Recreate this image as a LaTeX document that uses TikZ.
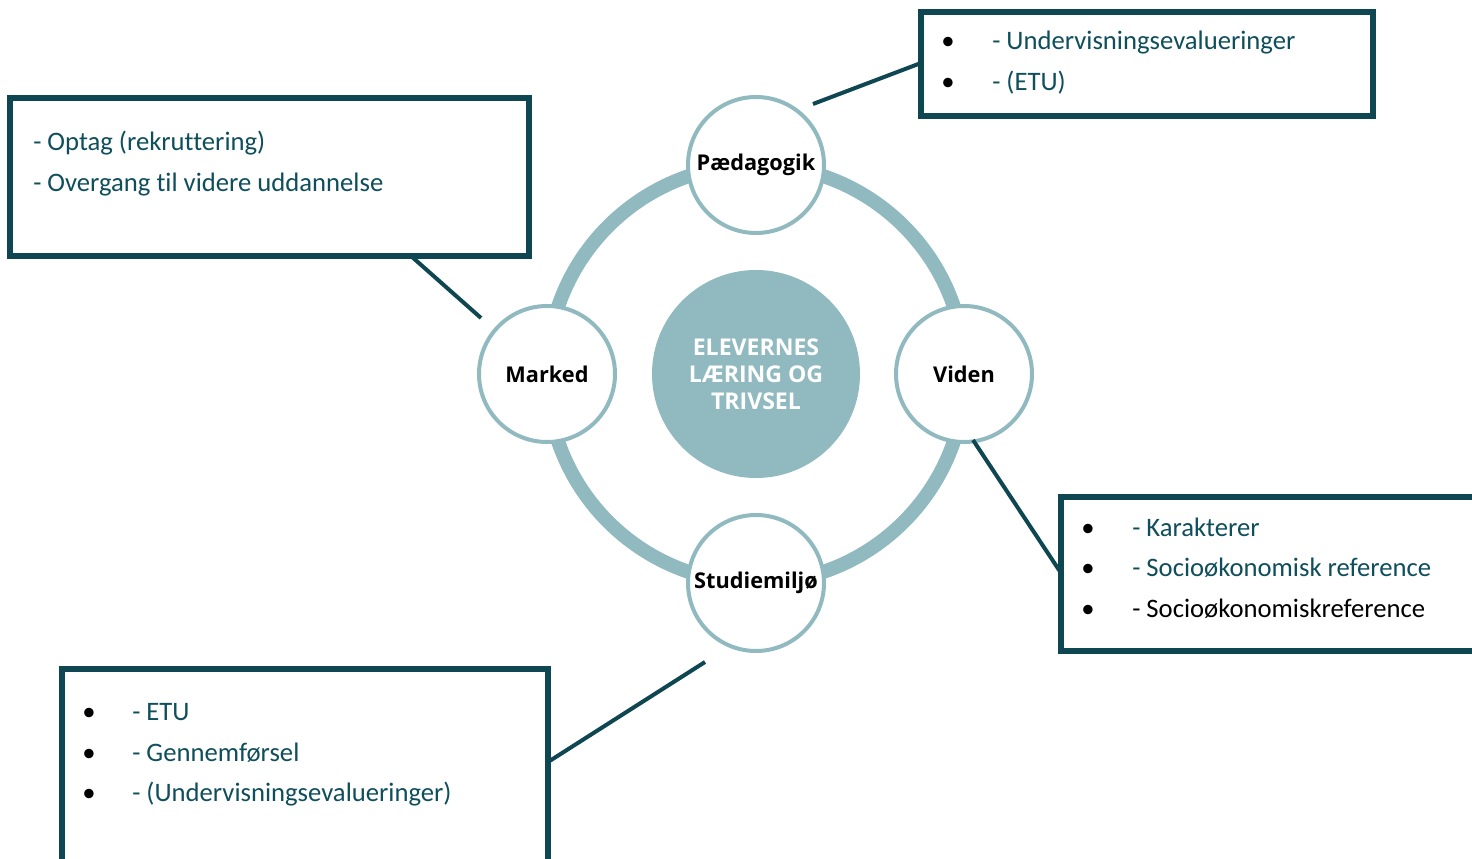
\documentclass[tikz,border=0pt]{standalone}
\usepackage{fontspec}
\setmainfont[Ligatures={NoCommon}]{Carlito}
\newfontfamily\lblfont{Open Sans}
\definecolor{dark}{HTML}{0E4651}
\definecolor{ringc}{HTML}{90BAC0}
\definecolor{txt}{HTML}{0F4E5B}
\begin{document}
\begin{tikzpicture}[x=0.75pt,y=-0.75pt,
  boxst/.style={draw=dark, line width=3.8pt, fill=white, rectangle, inner sep=0pt, outer sep=0pt},
  conn/.style={draw=dark, line width=3pt},
  small/.style={circle, draw=ringc, line width=3pt, fill=white, minimum size=102pt, inner sep=0pt, font=\lblfont\bfseries\fontsize{16.3}{19}\selectfont, text=black},
  line/.style={anchor=base west, inner sep=0pt, text=txt, font=\fontsize{20}{24}\selectfont},
  bul/.style={anchor=base, inner sep=0pt, text=black, font=\fontsize{20}{24}\selectfont}]
\useasboundingbox (0,0) rectangle (1472,859);
\clip (0,0) rectangle (1472,859);
\fill[white] (0,0) rectangle (1472,859);
% ring
\draw[ringc, line width=10.5pt] (756,374) circle[radius=209];
% center
\node[circle, fill=ringc, minimum size=156pt, inner sep=0pt, text=white,
  font=\lblfont\bfseries\fontsize{17.3}{20.3}\selectfont, align=center] (core) at (756,374)
  {ELEVERNES\\LÆRING OG\\TRIVSEL};
% small circles
\node[small] (paed) at (756,165) {Pædagogik};
\node[small] (mark) at (547,374) {Marked};
\node[small] (vid) at (964,374) {Viden};
\node[small] (stud) at (756,583) {Studiemiljø};
% boxes
\node[boxst, minimum width=339pt, minimum height=78pt, anchor=north west] (btr) at (921,12) {};
\node[boxst, minimum width=389.25pt, minimum height=118.5pt, anchor=north west] (btl) at (10,98) {};
\node[boxst, minimum width=330pt, minimum height=115.5pt, anchor=north west] (bri) at (1061,497) {};
\node[boxst, minimum width=364.5pt, minimum height=180pt, anchor=north west] (bbl) at (62,669) {};
% connector ends
\coordinate (cp) at (813,104);
\coordinate (cm) at (481,318);
\coordinate (cv) at (973,440);
\coordinate (cs) at (705,662);
\coordinate (etr) at (921,63);
\coordinate (etl) at (411,256);
\coordinate (eri) at (1061,573);
\coordinate (ebl) at (548,762);
\draw[conn] (cp) -- (etr);
\draw[conn] (cm) -- (etl);
\draw[conn] (cv) -- (eri);
\draw[conn] (cs) -- (ebl);
% top right text
\node[bul] (b1) at (948,50) {•};
\node[line] (t1) at (992,50) {- Undervisningsevalueringer};
\node[bul] (b2) at (948,91) {•};
\node[line] (t2) at (992,91) {- (ETU)};
% left text
\node[line] (t3) at (33,151) {- Optag (rekruttering)};
\node[line] (t4) at (33,192) {- Overgang til videre uddannelse};
% right text
\node[bul] (b5) at (1088,536) {•};
\node[line] (t5) at (1132,536) {- Karakterer};
\node[bul] (b6) at (1088,576) {•};
\node[line] (t6) at (1132,576) {- Socioøkonomisk reference};
\node[bul] (b7) at (1088,617) {•};
\node[line, text=black] (t7) at (1132,617) {- Socioøkonomiskreference};
% bottom text
\node[bul] (b8) at (89,720) {•};
\node[line] (t8) at (132,720) {- ETU};
\node[bul] (b9) at (89,761) {•};
\node[line] (t9) at (132,761) {- Gennemførsel};
\node[bul] (b10) at (89,801) {•};
\node[line] (t10) at (132,801) {- (Undervisningsevalueringer)};
\end{tikzpicture}
\end{document}
